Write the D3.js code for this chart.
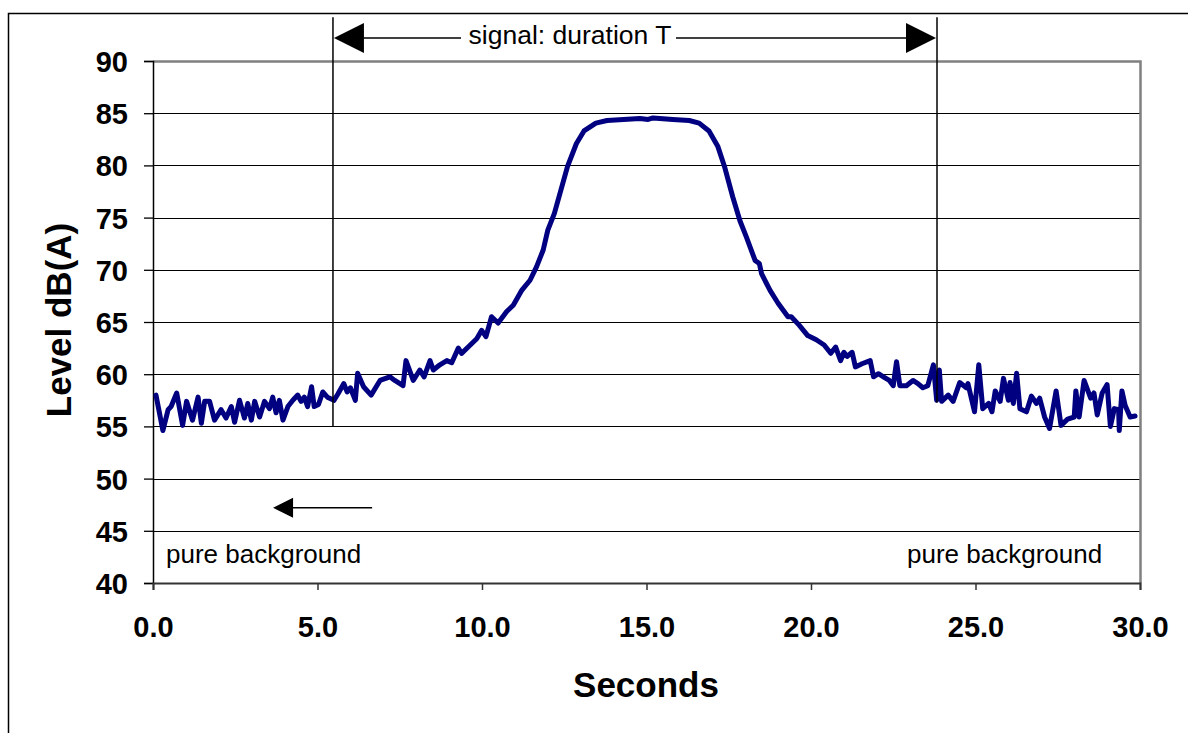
<!DOCTYPE html>
<html><head><meta charset="utf-8">
<script src="https://cdn.jsdelivr.net/npm/d3@7"></script>
<style>
html,body{margin:0;padding:0;background:#fff;}
svg{display:block;font-family:"Liberation Sans",Arial,sans-serif;}
</style></head>
<body>
<svg id="c" width="1188" height="733"></svg>
<script>
// time (s)
const times = [0.09,0.3,0.46,0.55,0.72,0.9,1.02,1.2,1.37,1.47,1.57,1.72,1.87,2.07,2.22,2.38,2.48,2.63,2.78,2.88,2.99,3.09,3.24,3.39,3.54,3.64,3.74,3.84,3.95,4.1,4.25,4.4,4.5,4.6,4.7,4.82,4.9,5.03,5.16,5.3,5.5,5.62,5.8,5.9,6.0,6.15,6.22,6.4,6.63,6.9,7.2,7.35,7.6,7.69,7.91,8.11,8.24,8.42,8.52,8.72,8.93,9.08,9.28,9.38,9.58,9.84,9.99,10.12,10.29,10.49,10.75,10.95,11.2,11.46,11.66,11.86,12.0,12.2,12.6,12.87,13.1,13.46,13.8,14.3,14.8,15.05,15.2,15.8,16.3,16.6,16.9,17.17,17.37,17.62,17.84,18.04,18.3,18.43,18.5,18.76,19.0,19.3,19.4,19.64,19.9,20.16,20.4,20.6,20.75,20.9,21.0,21.1,21.25,21.35,21.55,21.8,21.9,22.05,22.2,22.38,22.5,22.6,22.7,22.9,23.1,23.25,23.4,23.55,23.72,23.82,23.9,23.97,24.17,24.32,24.52,24.72,24.77,24.97,25.1,25.22,25.4,25.5,25.6,25.75,25.85,26.0,26.05,26.15,26.25,26.35,26.55,26.7,26.85,26.95,27.1,27.25,27.45,27.6,27.8,28.0,28.05,28.15,28.3,28.5,28.6,28.7,28.85,29.0,29.1,29.22,29.35,29.37,29.45,29.55,29.7,29.85];
// level dB(A)
const levels = [58.0,54.6,56.6,56.9,58.2,55.1,57.4,55.6,57.8,55.3,57.4,57.4,55.6,56.6,55.8,56.9,55.4,57.5,55.8,57.2,55.6,57.4,55.9,57.4,56.7,57.8,56.3,57.5,55.6,56.9,57.5,58.0,57.4,57.8,56.9,58.8,56.9,57.1,58.3,57.8,57.5,58.1,59.1,58.3,58.7,57.5,60.1,58.8,58.0,59.4,59.75,59.4,58.9,61.3,59.4,60.4,59.75,61.3,60.4,60.9,61.3,61.1,62.5,62.0,62.6,63.4,64.2,63.6,65.5,64.9,66.0,66.6,68.0,69.0,70.3,71.9,73.8,75.4,79.9,82.1,83.3,84.05,84.3,84.4,84.5,84.4,84.55,84.4,84.3,84.05,83.3,81.8,79.9,77.0,74.7,73.1,70.9,70.6,69.6,68.0,66.8,65.5,65.5,64.7,63.7,63.3,62.8,62.0,62.6,61.3,62.1,61.7,62.1,60.7,61.0,61.3,59.75,60.05,59.75,59.4,58.9,61.2,58.9,58.9,59.4,59.1,58.7,58.9,60.9,57.5,60.4,57.4,58.0,57.4,59.2,58.7,59.1,56.4,60.9,56.7,57.2,56.4,58.4,57.4,59.6,57.5,59.2,57.2,60.1,56.7,56.4,57.9,57.2,57.7,55.9,54.8,58.4,55.1,55.7,55.9,58.4,55.9,59.4,57.7,58.2,56.1,58.2,59.0,55.0,56.7,56.6,54.6,58.4,57.0,55.9,56.0];
const xTicks = [0,5,10,15,20,25,30];
const xTickLabels = ["0.0","5.0","10.0","15.0","20.0","25.0","30.0"];
const yTicks = [40,45,50,55,60,65,70,75,80,85,90];
const yTickLabels = ["40","45","50","55","60","65","70","75","80","85","90"];
const xTitle = "Seconds";
const yTitle = "Level dB(A)";
// annotations (data units)
const signalStart = 5.47, signalEnd = 23.83;
const signalStartBottom = 55.0, signalEndBottom = 57.3;
const markerTop = 94.2, signalArrowLevel = 92.2;
const signalText = "signal: duration T";
const bgText = "pure background";
const bgArrowFrom = 6.66, bgArrowTo = 3.65, bgArrowLevel = 47.2;

const svg = d3.select("#c");
const L = 153, R = 1140, T = 61, B = 583;
const x = d3.scaleLinear().domain([0,30]).range([L,R]);
const y = d3.scaleLinear().domain([40,90]).range([B,T]);

// outer border
svg.append("rect").attr("x",8.5).attr("y",13.5).attr("width",1300).attr("height",900)
  .attr("fill","none").attr("stroke","#000").attr("stroke-width",1.5);

// gridlines
svg.append("g").selectAll("line").data(yTicks.filter(v=>v>40 && v<90)).join("line")
  .attr("x1",L).attr("x2",R).attr("y1",d=>Math.round(y(d))+0.5).attr("y2",d=>Math.round(y(d))+0.5)
  .attr("stroke","#000").attr("stroke-width",1.2);
// frame top/right
svg.append("path").attr("d",`M${L},${T+0.5}H${R+0.5}V${B}`).attr("fill","none")
  .attr("stroke","#808080").attr("stroke-width",2.5);

// axes
const yAxis = d3.axisLeft(y).tickValues(yTicks).tickFormat((d,i)=>yTickLabels[i]).tickSize(9).tickPadding(16);
const gy = svg.append("g").attr("transform",`translate(${L},0)`).call(yAxis);
gy.select(".domain").attr("stroke","#000").attr("stroke-width",1.5);
gy.selectAll(".tick line").attr("stroke","#000").attr("stroke-width",1.3);
gy.selectAll("text").attr("font-size",29).attr("font-weight","bold").attr("fill","#000")
  .attr("font-family","'Liberation Sans',Arial,sans-serif").attr("dy","0.36em");

const xAxis = d3.axisBottom(x).tickValues(xTicks).tickFormat((d,i)=>xTickLabels[i]).tickSize(7).tickPadding(26);
const gx = svg.append("g").attr("transform",`translate(0,${B})`).call(xAxis);
gx.select(".domain").attr("stroke","#333").attr("stroke-width",2);
gx.selectAll(".tick line").attr("stroke","#333").attr("stroke-width",1.5);
gx.selectAll("text").attr("font-size",29).attr("font-weight","bold").attr("fill","#000")
  .attr("font-family","'Liberation Sans',Arial,sans-serif").attr("dy","0.71em");

// titles
svg.append("text").attr("x",646).attr("y",697).attr("text-anchor","middle")
  .attr("font-size",35).attr("font-weight","bold").text(xTitle);
svg.append("text").attr("transform","translate(71,320) rotate(-90)").attr("text-anchor","middle")
  .attr("font-size",35).attr("font-weight","bold").text(yTitle);

// data line
const data = times.map((t,i)=>[t,levels[i]]);
svg.append("path").datum(data).attr("fill","none").attr("stroke","#000080")
  .attr("stroke-width",5).attr("stroke-linejoin","round").attr("stroke-linecap","round")
  .attr("d",d3.line().x(d=>x(d[0])).y(d=>y(d[1])));

// annotations
const ann = svg.append("g");
ann.append("line").attr("x1",x(signalStart)).attr("x2",x(signalStart)).attr("y1",y(markerTop)).attr("y2",y(signalStartBottom))
  .attr("stroke","#000").attr("stroke-width",1.5);
ann.append("line").attr("x1",x(signalEnd)).attr("x2",x(signalEnd)).attr("y1",y(markerTop)).attr("y2",y(signalEndBottom))
  .attr("stroke","#000").attr("stroke-width",1.5);
const ay = y(signalArrowLevel);
const xs = x(signalStart), xe = x(signalEnd);
ann.append("text").attr("x",570).attr("y",ay+6).attr("text-anchor","middle")
  .attr("font-size",26.5).text(signalText);
ann.append("line").attr("x1",xs+28).attr("x2",461).attr("y1",ay).attr("y2",ay).attr("stroke","#000").attr("stroke-width",1.5);
ann.append("line").attr("x1",676).attr("x2",xe-28).attr("y1",ay).attr("y2",ay).attr("stroke","#000").attr("stroke-width",1.5);
ann.append("path").attr("d",`M${xs+1},${ay}L${xs+31},${ay-15}L${xs+31},${ay+15}Z`).attr("fill","#000");
ann.append("path").attr("d",`M${xe-1},${ay}L${xe-31},${ay-15}L${xe-31},${ay+15}Z`).attr("fill","#000");

const by = y(bgArrowLevel), bx0 = x(bgArrowFrom), bx1 = x(bgArrowTo);
ann.append("line").attr("x1",bx0).attr("x2",bx1+18).attr("y1",by).attr("y2",by).attr("stroke","#000").attr("stroke-width",1.5);
ann.append("path").attr("d",`M${bx1},${by}L${bx1+20},${by-10}L${bx1+20},${by+10}Z`).attr("fill","#000");

ann.append("text").attr("x",166).attr("y",563).attr("font-size",26).text(bgText);
ann.append("text").attr("x",907).attr("y",563).attr("font-size",26).text(bgText);
</script>
</body></html>
